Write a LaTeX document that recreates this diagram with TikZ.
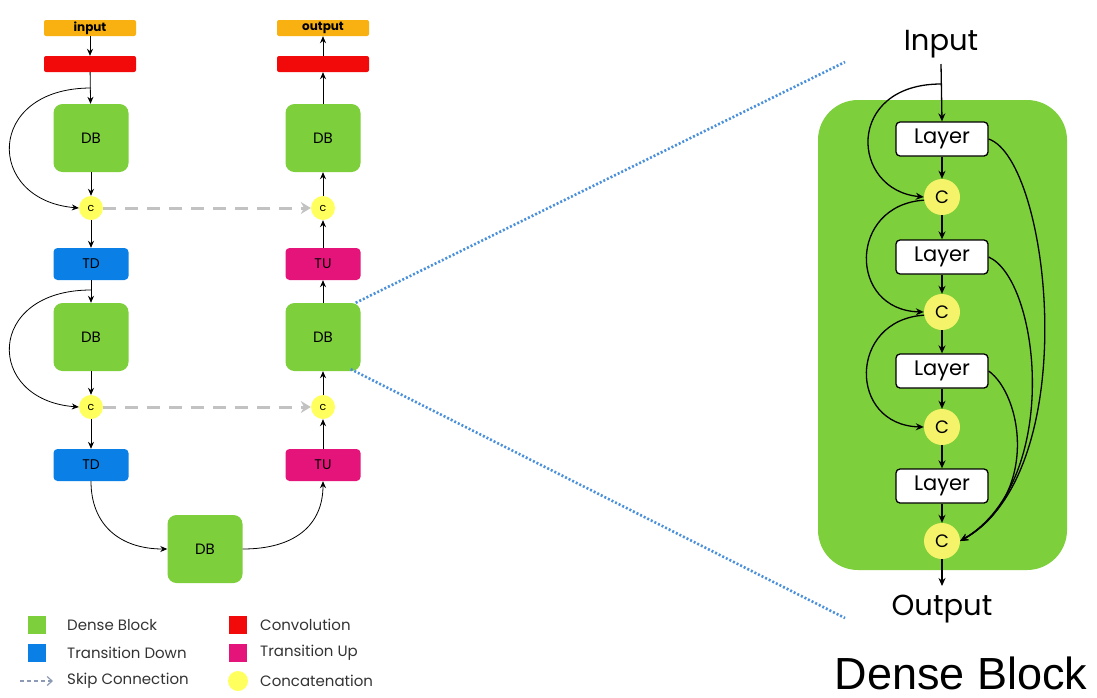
\documentclass[tikz,border=0pt]{standalone}
\usepackage{fontspec}
\setmainfont{Poppins}
\newfontfamily\arialfont{Liberation Sans}
\usetikzlibrary{arrows.meta}
\definecolor{dbgreen}{HTML}{7DCF3B}
\definecolor{tdblue}{HTML}{0A7FE6}
\definecolor{tumag}{HTML}{E5147A}
\definecolor{convred}{HTML}{F20A0A}
\definecolor{inorange}{HTML}{F9B111}
\definecolor{catyellow}{HTML}{FFFF5E}
\definecolor{catyellow2}{HTML}{F5F36A}
\definecolor{skipgray}{HTML}{C2C2C2}
\definecolor{dotblue}{HTML}{4A90DA}
\definecolor{legarrow}{HTML}{8C9AB5}
\tikzset{
  arr/.style={-{Stealth[length=7pt,width=6pt]}, line width=0.8pt, black},
  arrb/.style={-{Stealth[length=8pt,width=7pt]}, line width=1.3pt, black},
  dbbox/.style={fill=dbgreen, rounded corners=9pt, minimum width=75pt, minimum height=68pt, inner sep=0pt, font=\fontsize{15}{15}\selectfont},
  tdbox/.style={fill=tdblue, rounded corners=4pt, minimum width=75pt, minimum height=32pt, inner sep=0pt, font=\fontsize{14}{14}\selectfont},
  tubox/.style={fill=tumag, rounded corners=4pt, minimum width=75pt, minimum height=32pt, inner sep=0pt, font=\fontsize{14}{14}\selectfont},
  convbox/.style={fill=convred, rounded corners=2pt, minimum width=92pt, minimum height=16pt, inner sep=0pt},
  iobox/.style={fill=inorange, rounded corners=2pt, minimum width=92pt, minimum height=16pt, inner sep=0pt, font=\bfseries\fontsize{12}{12}\selectfont},
  cat/.style={circle, fill=catyellow, minimum size=24pt, inner sep=0pt, font=\fontsize{11}{11}\selectfont},
  catb/.style={circle, fill=catyellow2, minimum size=36pt, inner sep=0pt, font=\fontsize{18}{18}\selectfont},
  layerbox/.style={draw=black, line width=1.3pt, fill=white, rounded corners=4pt, minimum width=92pt, minimum height=34pt, inner sep=0pt, font=\fontsize{21}{21}\selectfont},
  skip/.style={draw=skipgray, line width=3pt, dash pattern=on 13pt off 9pt, -{Stealth[length=10pt,width=12pt]}},
  dotline/.style={draw=dotblue, line width=2.6pt, dash pattern=on 2pt off 2pt},
  legsq/.style={minimum size=18pt, inner sep=0pt},
  legtxt/.style={anchor=west, inner sep=0pt, font=\fontsize{15}{15}\selectfont, text=black!80},
}
\begin{document}
\begin{tikzpicture}[x=1pt,y=-1pt]
\useasboundingbox (0,0) rectangle (1097,697);

% ---------- left column ----------
\node[iobox] (inp) at (90,28) {input};
\node[convbox] (cv1) at (90,64) {};
\node[dbbox] (db1) at (91,138) {DB};
\node[cat] (c1) at (91,208) {c};
\node[tdbox] (td1) at (91,264) {TD};
\node[dbbox] (db2) at (91,337) {DB};
\node[cat] (c2) at (91,407) {c};
\node[tdbox] (td2) at (91,465) {TD};
\node[dbbox] (dbb) at (205,549) {DB};

% ---------- right column ----------
\node[iobox] (outp) at (323,28) {output};
\node[convbox] (cv2) at (323,64) {};
\node[dbbox] (db4) at (323,138) {DB};
\node[cat] (c3) at (323,208) {c};
\node[tubox] (tu1) at (323,264) {TU};
\node[dbbox] (db3) at (323,337) {DB};
\node[cat] (c4) at (323,407) {c};
\node[tubox] (tu2) at (323,465) {TU};

% left arrows
\draw[arr] (inp) -- (cv1);
\draw[arr] (cv1) -- (db1);
\draw[arr] (db1) -- (c1);
\draw[arr] (c1) -- (td1);
\draw[arr] (td1) -- (db2);
\draw[arr] (db2) -- (c2);
\draw[arr] (c2) -- (td2);
\coordinate (s1) at (91,88);
\coordinate (s2) at (91,290);
\draw[arr] (s1) .. controls (-15,88) and (-15,200) .. (c1.west);
\draw[arr] (s2) .. controls (-15,290) and (-15,400) .. (c2.west);
\draw[arr] (td2.south) .. controls (91,525) and (120,549) .. (dbb.west);
\draw[arr] (dbb.east) .. controls (295,549) and (323,525) .. (tu2.south);

% right arrows
\draw[arr] (tu2) -- (c4);
\draw[arr] (c4) -- (db3);
\draw[arr] (db3) -- (tu1);
\draw[arr] (tu1) -- (c3);
\draw[arr] (c3) -- (db4);
\draw[arr] (db4) -- (cv2);
\draw[arr] (cv2) -- (outp);

% skip connections
\draw[skip] (c1.east) -- (c3.west);
\draw[skip] (c2.east) -- (c4.west);

% dotted zoom lines
\coordinate (z1) at (845,62);
\coordinate (z2) at (845,618);
\draw[dotline] ([xshift=-5pt]db3.north east) -- (z1);
\draw[dotline] ([xshift=-10pt,yshift=2pt]db3.south east) -- (z2);

% ---------- dense block detail ----------
\node[fill=dbgreen, rounded corners=40pt, minimum width=249pt, minimum height=470pt, inner sep=0pt] (bg) at (942.5,335) {};
\node[font=\fontsize{29}{29}\selectfont, inner sep=0pt, anchor=base] (tin) at (941,50) {Input};
\coordinate (tinb) at (941,64);
\node[layerbox] (l1) at (942,139) {Layer};
\node[catb] (k1) at (942,197) {C};
\node[layerbox] (l2) at (942,257) {Layer};
\node[catb] (k2) at (942,312) {C};
\node[layerbox] (l3) at (942,371) {Layer};
\node[catb] (k3) at (942,427) {C};
\node[layerbox] (l4) at (942,486) {Layer};
\node[catb] (k4) at (942,541) {C};
\node[font=\fontsize{29}{29}\selectfont, inner sep=0pt, anchor=base] (tout) at (942,615) {Output};
\coordinate (toutt) at (942,586);

\draw[arrb] (tinb) -- (l1.north);
\draw[arrb] (l1) -- (k1);
\draw[arrb] (k1) -- (l2);
\draw[arrb] (l2) -- (k2);
\draw[arrb] (k2) -- (l3);
\draw[arrb] (l3) -- (k3);
\draw[arrb] (k3) -- (l4);
\draw[arrb] (l4) -- (k4);
\draw[arrb] (k4) -- (toutt);

\coordinate (r0) at (941,84);
\draw[arrb] (r0) .. controls (845,84) and (850,190) .. (k1.west);
\draw[arrb] (k1.190) .. controls (848,205) and (848,310) .. (k2.west);
\draw[arrb] (k2.190) .. controls (848,320) and (848,425) .. (k3.west);

\draw[arrb] (l1.east) .. controls (1050,160) and (1085,470) .. (k4.east);
\draw[arrb] (l2.east) .. controls (1040,280) and (1062,480) .. (k4.east);
\draw[arrb] (l3.east) .. controls (1022,395) and (1040,495) .. (k4.east);

\node[font=\arialfont\fontsize{45}{45}\selectfont, inner sep=0pt, text depth=0pt, anchor=base] (title) at (961,689) {Dense Block};

% ---------- legend ----------
\node[legsq, fill=dbgreen] (lg1) at (37,625) {};
\node[legtxt] (lt1) at (67,625) {Dense Block};
\node[legsq, fill=tdblue] (lg2) at (37,653) {};
\node[legtxt] (lt2) at (67,653) {Transition Down};
\coordinate (la1) at (20,681);
\coordinate (la2) at (53,681);
\draw[draw=legarrow, line width=1.2pt, dash pattern=on 4pt off 3pt, -{Straight Barb[length=5pt,width=9pt]}] (la1) -- (la2);
\node[legtxt] (lt3) at (67,681) {Skip Connection};
\node[legsq, fill=convred] (lg4) at (238,625) {};
\node[legtxt] (lt4) at (260,625) {Convolution};
\node[legsq, fill=tumag] (lg5) at (238,653) {};
\node[legtxt] (lt5) at (260,653) {Transition Up};
\node[circle, fill=catyellow, minimum size=20pt, inner sep=0pt] (lg6) at (238,681) {};
\node[legtxt] (lt6) at (260,681) {Concatenation};
\end{tikzpicture}
\end{document}
